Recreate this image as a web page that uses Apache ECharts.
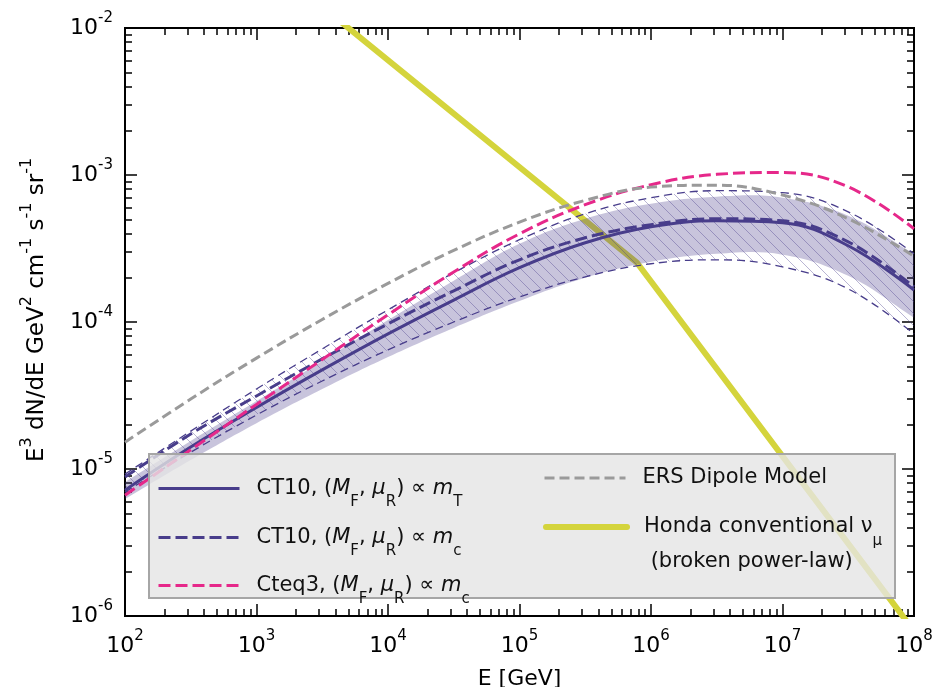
<!DOCTYPE html>
<html>
<head>
<meta charset="utf-8">
<script src="https://cdn.jsdelivr.net/npm/echarts@6/dist/echarts.min.js"></script>
<style>
  html, body { margin: 0; padding: 0; background: #fff; }
  #chart { width: 932px; height: 687px; }
</style>
</head>
<body>
<div id="chart"></div>
<script>
// energy grid in GeV (half decades)
var energyGeV = [1e2, 3.16e2, 1e3, 3.16e3, 1e4, 3.16e4, 1e5, 3.16e5, 1e6, 3.16e6, 1e7, 3.16e7, 1e8];

// E^3 dN/dE  [GeV^2 cm^-1 s^-1 sr^-1]
var ct10MT     = [7.18e-6, 1.41e-5, 2.62e-5, 4.72e-5, 8.30e-5, 1.41e-4, 2.34e-4, 3.46e-4, 4.44e-4, 4.88e-4, 4.73e-4, 3.30e-4, 1.65e-4];
var ct10MTLow  = [6.24e-6, 1.15e-5, 2.05e-5, 3.50e-5, 5.78e-5, 9.12e-5, 1.39e-4, 2.00e-4, 2.57e-4, 2.91e-4, 2.87e-4, 2.06e-4, 1.07e-4];
var ct10MTHigh = [8.14e-6, 1.55e-5, 2.90e-5, 5.43e-5, 1.03e-4, 1.91e-4, 3.40e-4, 5.04e-4, 6.37e-4, 7.12e-4, 7.00e-4, 5.28e-4, 2.91e-4];
var ct10Mc     = [8.81e-6, 1.73e-5, 3.14e-5, 5.61e-5, 9.71e-5, 1.63e-4, 2.65e-4, 3.74e-4, 4.59e-4, 5.04e-4, 4.88e-4, 3.51e-4, 1.73e-4];
var ct10McLow  = [6.96e-6, 1.30e-5, 2.33e-5, 3.97e-5, 6.46e-5, 1.00e-4, 1.48e-4, 2.03e-4, 2.49e-4, 2.65e-4, 2.37e-4, 1.68e-4, 8.30e-5];
var ct10McHigh = [9.23e-6, 1.81e-5, 3.50e-5, 6.56e-5, 1.21e-4, 2.16e-4, 3.63e-4, 5.45e-4, 7.00e-4, 7.82e-4, 7.58e-4, 5.62e-4, 2.91e-4];
var cteq3Mc    = [6.64e-6, 1.35e-5, 2.75e-5, 5.56e-5, 1.12e-4, 2.19e-4, 3.98e-4, 6.28e-4, 8.59e-4, 1.01e-3, 1.04e-3, 8.30e-4, 4.31e-4];
var ersDipole  = [1.52e-5, 2.99e-5, 5.68e-5, 1.04e-4, 1.83e-4, 3.07e-4, 4.78e-4, 6.72e-4, 8.27e-4, 8.53e-4, 7.31e-4, 5.04e-4, 2.80e-4];

// Honda conventional nu_mu, broken power law
var hondaE    = [3e3, 7.8e5, 1e8];
var hondaFlux = [1.45e-2, 2.54e-4, 7.9e-7];

// ticks
var xTickValues = [1e2, 1e3, 1e4, 1e5, 1e6, 1e7, 1e8];
var xTickExps   = ['2', '3', '4', '5', '6', '7', '8'];
var yTickValues = [1e-6, 1e-5, 1e-4, 1e-3, 1e-2];
var yTickExps   = ['-6', '-5', '-4', '-3', '-2'];

var nameMT    = 'CT10, (MF, μR) ∝ mT';
var nameMc    = 'CT10, (MF, μR) ∝ mc';
var nameCteq  = 'Cteq3, (MF, μR) ∝ mc';
var nameERS   = 'ERS Dipole Model';
var nameHonda = 'Honda conventional νμ (broken power-law)';

var FONT = 'DejaVu Sans';
var PURPLE = '#483d8b';
var MAGENTA = '#e6288a';
var GREY = '#9a9a9a';
var YELLOW = '#d4d43c';
var SMOOTH = 0.4;

// minor ticks 2..9 per decade
function minorTicks(lo, hi) {
  var out = [];
  for (var d = lo; d < hi; d++) {
    for (var k = 2; k <= 9; k++) out.push(k * Math.pow(10, d));
  }
  return out;
}
var xMinor = minorTicks(2, 8);
var yMinor = minorTicks(-6, -2);

function expFormatter(values, exps) {
  return function (v) {
    for (var i = 0; i < values.length; i++) {
      if (Math.abs(v / values[i] - 1) < 1e-6) return '{b|10}{p|' + exps[i] + '}';
    }
    return '';
  };
}

var tickRich = {
  b: { fontSize: 22, fontFamily: FONT, color: '#000', lineHeight: 26 },
  p: { fontSize: 15, fontFamily: FONT, color: '#000', lineHeight: 26, padding: [0, 0, 20, 0] }
};

function logAxis(pos, min, max, ticks, len, extra) {
  var a = {
    type: 'log', logBase: 10, min: min, max: max, position: pos,
    axisLine: { show: true, onZero: false, lineStyle: { color: '#000', width: 2 } },
    axisTick: { show: true, inside: true, length: len, customValues: ticks, lineStyle: { color: '#000', width: 1.5 } },
    axisLabel: { show: false },
    splitLine: { show: false },
    minorTick: { show: false },
    minorSplitLine: { show: false }
  };
  if (extra) for (var k in extra) a[k] = extra[k];
  return a;
}

function pairs(arr) {
  return energyGeV.map(function (e, i) { return [e, arr[i]]; });
}

function curve(name, arr, color, width, type, z) {
  return {
    name: name, type: 'line', data: pairs(arr), symbol: 'none', showSymbol: false,
    smooth: SMOOTH, z: z, silent: true,
    lineStyle: { color: color, width: width, type: type },
    itemStyle: { color: color }
  };
}

// filled band between two curves, drawn as one polygon through the axes
function band(low, high, fill, z) {
  return {
    type: 'custom', coordinateSystem: 'cartesian2d', z: z, silent: true, clip: true,
    data: energyGeV.map(function (e, i) { return [e, low[i], high[i]]; }),
    encode: { x: 0, y: [1, 2] },
    renderItem: function (params, api) {
      if (params.dataIndex !== 0) return null;
      var n = energyGeV.length, pts = [], i;
      for (i = 0; i < n; i++) pts.push(api.coord([energyGeV[i], high[i]]));
      pts.push(pts[pts.length - 1]);
      var lowPts = [];
      for (i = n - 1; i >= 0; i--) lowPts.push(api.coord([energyGeV[i], low[i]]));
      pts.push(lowPts[0]);
      pts = pts.concat(lowPts);
      pts.push(lowPts[lowPts.length - 1]);
      pts.push(pts[0]);
      return {
        type: 'polygon',
        shape: { points: pts, smooth: SMOOTH },
        style: { fill: fill, stroke: null }
      };
    }
  };
}

function hatchPattern() {
  var w = 12, h = 12;
  var c = document.createElement('canvas');
  c.width = w; c.height = h;
  var ctx = c.getContext('2d');
  ctx.strokeStyle = 'rgba(72,61,139,0.38)';
  ctx.lineWidth = 1;
  [-w, 0, w].forEach(function (dx) {
    ctx.beginPath();
    ctx.moveTo(dx, 0);
    ctx.lineTo(dx + w, h);
    ctx.stroke();
  });
  return c;
}

function legendRich(lh) {
  return {
    n: { fontSize: 21, fontFamily: FONT, color: '#111', lineHeight: lh },
    i: { fontSize: 21, fontFamily: FONT, fontStyle: 'italic', color: '#111', lineHeight: lh },
    s: { fontSize: 15, fontFamily: FONT, color: '#111', lineHeight: lh, padding: [28, 0, 0, 0] }
  };
}

var legendText = {};
legendText[nameMT]    = '{n|CT10, (}{i|M}{s|F}{n|, }{i|μ}{s|R}{n|) ∝ }{i|m}{s|T}';
legendText[nameMc]    = '{n|CT10, (}{i|M}{s|F}{n|, }{i|μ}{s|R}{n|) ∝ }{i|m}{s|c}';
legendText[nameCteq]  = '{n|Cteq3, (}{i|M}{s|F}{n|, }{i|μ}{s|R}{n|) ∝ }{i|m}{s|c}';
legendText[nameERS]   = '{n|ERS Dipole Model}';
legendText[nameHonda] = '\n{n|Honda conventional ν}{s|μ}\n{n| (broken power-law)}';

function legendFor(name, left, top, lh, line) {
  return {
    data: [name], left: left, top: top, orient: 'vertical', padding: 0,
    itemWidth: 81, itemHeight: 14, z: 20, selectedMode: false,
    itemStyle: { opacity: 0 },
    lineStyle: line,
    formatter: function (n) { return legendText[n]; },
    textStyle: { fontFamily: FONT, fontSize: 21, color: '#111', lineHeight: lh, padding: [0, 0, 0, 12], rich: legendRich(lh) }
  };
}

var chart = echarts.init(document.getElementById('chart'), null, { renderer: 'canvas' });

var series = [];
series.push({
  name: nameHonda, type: 'line', data: hondaE.map(function (e, i) { return [e, hondaFlux[i]]; }),
  symbol: 'none', showSymbol: false, z: 2, silent: true, clip: true,
  lineStyle: { color: YELLOW, width: 6, cap: 'round' }, itemStyle: { color: YELLOW }
});
series.push(band(ct10MTLow, ct10MTHigh, 'rgba(72,61,139,0.30)', 3));
series.push(band(ct10McLow, ct10McHigh, { image: hatchPattern(), repeat: 'repeat' }, 3));
series.push(curve(null, ct10McLow, PURPLE, 1.3, [8, 5], 4));
series.push(curve(null, ct10McHigh, PURPLE, 1.3, [8, 5], 4));
series.push(curve(nameMT, ct10MT, PURPLE, 3, 'solid', 5));
series.push(curve(nameMc, ct10Mc, PURPLE, 3, [12, 5], 5));
series.push(curve(nameCteq, cteq3Mc, MAGENTA, 3, [12, 5], 5));
series.push(curve(nameERS, ersDipole, GREY, 3, [10, 5], 5));

chart.setOption({
  animation: false,
  backgroundColor: '#fff',
  grid: { left: 125, right: 18, top: 28, bottom: 71, containLabel: false, outerBoundsMode: 'none' },
  xAxis: [
    logAxis('bottom', 1e2, 1e8, xTickValues, 12, {
      name: 'E [GeV]', nameLocation: 'middle', nameGap: 44,
      nameTextStyle: { fontFamily: FONT, fontSize: 22, color: '#000' },
      axisLabel: { show: true, customValues: xTickValues, margin: 17, formatter: expFormatter(xTickValues, xTickExps), rich: tickRich }
    }),
    logAxis('bottom', 1e2, 1e8, xMinor, 7),
    logAxis('top', 1e2, 1e8, xTickValues, 12),
    logAxis('top', 1e2, 1e8, xMinor, 7)
  ],
  yAxis: [
    logAxis('left', 1e-6, 1e-2, yTickValues, 12, {
      name: '{n|E}{p|3}{n| dN/dE GeV}{p|2}{n| cm}{p|-1}{n| s}{p|-1}{n| sr}{p|-1}',
      nameLocation: 'middle', nameGap: 74, nameRotate: 90,
      nameTextStyle: {
        fontFamily: FONT, fontSize: 23, color: '#000', padding: [0, 0, 0, 24],
        rich: {
          n: { fontSize: 23, fontFamily: FONT, color: '#000', lineHeight: 28 },
          p: { fontSize: 16, fontFamily: FONT, color: '#000', lineHeight: 28, padding: [0, 0, 20, 0] }
        }
      },
      axisLabel: { show: true, customValues: yTickValues, margin: 12, formatter: expFormatter(yTickValues, yTickExps), rich: tickRich }
    }),
    logAxis('left', 1e-6, 1e-2, yMinor, 7),
    logAxis('right', 1e-6, 1e-2, yTickValues, 12),
    logAxis('right', 1e-6, 1e-2, yMinor, 7)
  ],
  legend: [
    legendFor(nameMT, 157, 467, 22, { color: PURPLE, width: 3, type: 'solid' }),
    legendFor(nameMc, 157, 516, 22, { color: PURPLE, width: 3, type: [12, 5] }),
    legendFor(nameCteq, 157, 564, 22, { color: MAGENTA, width: 3, type: [12, 5] }),
    legendFor(nameERS, 543, 467, 22, { color: GREY, width: 3, type: [10, 5] }),
    legendFor(nameHonda, 543, 474.5, 35, { color: YELLOW, width: 6, type: 'solid', cap: 'round' })
  ],
  graphic: [{
    type: 'rect', silent: true, z: 10,
    shape: { x: 149, y: 454, width: 746, height: 144 },
    style: { fill: 'rgba(229,229,229,0.8)', stroke: '#a6a6a6', lineWidth: 2 }
  }],
  series: series
});
</script>
</body>
</html>
